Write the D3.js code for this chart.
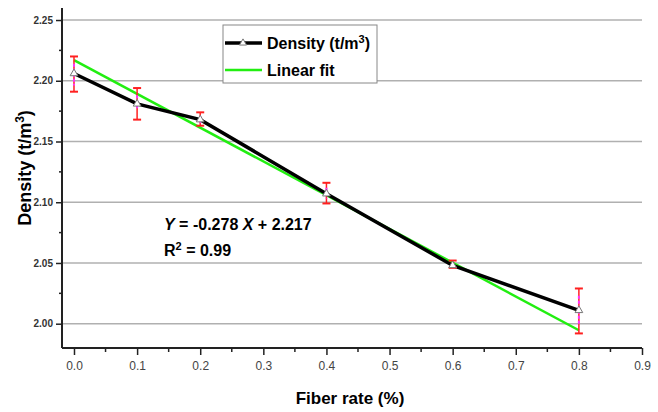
<!DOCTYPE html>
<html><head><meta charset="utf-8">
<script src="https://cdn.jsdelivr.net/npm/d3@7"></script>
<style>body{margin:0;background:#fff}svg{display:block}</style>
</head><body>
<svg id="c" width="658" height="412"></svg>
<script>
const fiber = [0.0, 0.1, 0.2, 0.4, 0.6, 0.8];
const density = [2.206, 2.181, 2.168, 2.107, 2.048, 2.011];
const errLow = [2.191, 2.168, 2.163, 2.099, 2.046, 1.992];
const errHigh = [2.220, 2.194, 2.174, 2.116, 2.052, 2.029];
const sdLow = [2.196, 2.176, 2.165, 2.103, 2.047, 2.000];
const sdHigh = [2.214, 2.188, 2.171, 2.112, 2.050, 2.023];
const fitSlope = -0.278, fitIntercept = 2.217;
const fitX = [0.0, 0.8];
const xTicks = [0,0.1,0.2,0.3,0.4,0.5,0.6,0.7,0.8,0.9];
const yTicks = [2.00,2.05,2.10,2.15,2.20,2.25];

const svg = d3.select("#c");
const x = d3.scaleLinear().domain([-0.019, 0.9]).range([62, 642]);
const y = d3.scaleLinear().domain([1.98, 2.2599]).range([348, 8]);

// grid
svg.append("g").selectAll("line").data(yTicks).join("line")
  .attr("x1", 62).attr("x2", 642).attr("y1", d=>y(d)).attr("y2", d=>y(d))
  .attr("stroke", "#b0b0b0").attr("stroke-width", 1.5);

// axes
const xAx = svg.append("g").attr("transform","translate(0,348)")
  .call(d3.axisBottom(x).tickValues(xTicks).tickSize(7).tickPadding(6).tickFormat(d3.format(".1f")));
xAx.append("g").selectAll("line").data(d3.range(0.05,0.9,0.1)).join("line")
  .attr("x1",d=>x(d)).attr("x2",d=>x(d)).attr("y1",0).attr("y2",4).attr("stroke","#222").attr("stroke-width",1.5);
xAx.select(".domain").attr("d","M62,0H642").attr("stroke","#222").attr("stroke-width",2);
xAx.selectAll(".tick line").attr("stroke","#222").attr("stroke-width",1.5);
xAx.selectAll("text").attr("font-family","Liberation Sans Narrow, Liberation Sans, Arial").attr("font-size",12).attr("fill","#444");

const yAx = svg.append("g").attr("transform","translate(62,0)")
  .call(d3.axisLeft(y).tickValues(yTicks).tickSize(6).tickPadding(3).tickFormat(d3.format(".2f")));
yAx.append("g").selectAll("line").data([2.025,2.075,2.125,2.175,2.225]).join("line")
  .attr("x1",0).attr("x2",-3).attr("y1",d=>y(d)).attr("y2",d=>y(d)).attr("stroke","#222").attr("stroke-width",1.5);
yAx.select(".domain").attr("d","M0,8V348").attr("stroke","#222").attr("stroke-width",2);
yAx.selectAll(".tick line").attr("stroke","#222").attr("stroke-width",1.5);
yAx.selectAll("text").attr("font-family","Liberation Sans, Arial").attr("font-size",10).attr("font-weight","bold").attr("fill","#333");

// fit line
svg.append("line")
  .attr("x1", x(fitX[0])).attr("y1", y(fitIntercept + fitSlope*fitX[0]))
  .attr("x2", x(fitX[1])).attr("y2", y(fitIntercept + fitSlope*fitX[1]))
  .attr("stroke","#22ee11").attr("stroke-width",2.5);

// density line
svg.append("path").datum(fiber.map((f,i)=>[f,density[i]]))
  .attr("d", d3.line().x(d=>x(d[0])).y(d=>y(d[1])))
  .attr("fill","none").attr("stroke","#000").attr("stroke-width",3.5);

// error bars
const eb = svg.append("g");
fiber.forEach((f,i)=>{
  const cx = x(f);
  eb.append("line").attr("x1",cx).attr("x2",cx).attr("y1",y(errHigh[i])).attr("y2",y(errLow[i])).attr("stroke","#ff2020").attr("stroke-width",1.5);
  [errHigh[i], errLow[i]].forEach(v=>eb.append("line").attr("x1",cx-4).attr("x2",cx+4).attr("y1",y(v)).attr("y2",y(v)).attr("stroke","#ff2020").attr("stroke-width",2));
  eb.append("line").attr("x1",cx).attr("x2",cx).attr("y1",y(sdHigh[i])).attr("y2",y(sdLow[i])).attr("stroke","#ff33ff").attr("stroke-width",2).attr("stroke-dasharray","3,2");
});

// triangles
svg.append("g").selectAll("path").data(fiber).join("path")
  .attr("transform",(d,i)=>`translate(${x(d)},${y(density[i])})`)
  .attr("d", d3.symbol(d3.symbolTriangle, 26)())
  .attr("fill","#fff").attr("stroke","#777").attr("stroke-width",1);

// legend
const lg = svg.append("g");
lg.append("rect").attr("x",223).attr("y",25).attr("width",154).attr("height",58).attr("fill","#fff").attr("stroke","#888").attr("stroke-width",1);
lg.append("line").attr("x1",225).attr("x2",262).attr("y1",43).attr("y2",43).attr("stroke","#000").attr("stroke-width",3.5);
lg.append("path").attr("transform","translate(243,43)").attr("d",d3.symbol(d3.symbolTriangle,22)()).attr("fill","#fff").attr("stroke","#777");
lg.append("line").attr("x1",225).attr("x2",262).attr("y1",70).attr("y2",70).attr("stroke","#22ee11").attr("stroke-width",2.5);
const lt1 = lg.append("text").attr("x",267).attr("y",49).attr("font-family","Liberation Sans, Arial").attr("font-weight","bold").attr("font-size",16);
lt1.append("tspan").text("Density (t/m");
lt1.append("tspan").attr("dy",-6).attr("font-size",11).text("3");
lt1.append("tspan").attr("dy",6).text(")");
lg.append("text").attr("x",267).attr("y",76).attr("font-family","Liberation Sans, Arial").attr("font-weight","bold").attr("font-size",16).text("Linear fit");

// equation
const eq = svg.append("text").attr("x",164).attr("y",230).attr("font-family","Liberation Sans, Arial").attr("font-weight","bold").attr("font-size",16);
eq.append("tspan").attr("font-style","italic").text("Y");
eq.append("tspan").text(" = -0.278 ");
eq.append("tspan").attr("font-style","italic").text("X");
eq.append("tspan").text(" + 2.217");
const r2 = svg.append("text").attr("x",164).attr("y",256).attr("font-family","Liberation Sans, Arial").attr("font-weight","bold").attr("font-size",16);
r2.append("tspan").text("R");
r2.append("tspan").attr("dy",-6).attr("font-size",11).text("2");
r2.append("tspan").attr("dy",6).text(" = 0.99");

// axis titles
svg.append("text").attr("x",350).attr("y",404).attr("text-anchor","middle").attr("font-family","Liberation Sans, Arial").attr("font-weight","bold").attr("font-size",17).text("Fiber rate (%)");
const yt = svg.append("text").attr("transform","translate(31,168) rotate(-90)").attr("text-anchor","middle").attr("font-family","Liberation Sans, Arial").attr("font-weight","bold").attr("font-size",18);
yt.append("tspan").text("Density (t/m");
yt.append("tspan").attr("dy",-7).attr("font-size",12).text("3");
yt.append("tspan").attr("dy",7).text(")");
</script>
</body></html>
